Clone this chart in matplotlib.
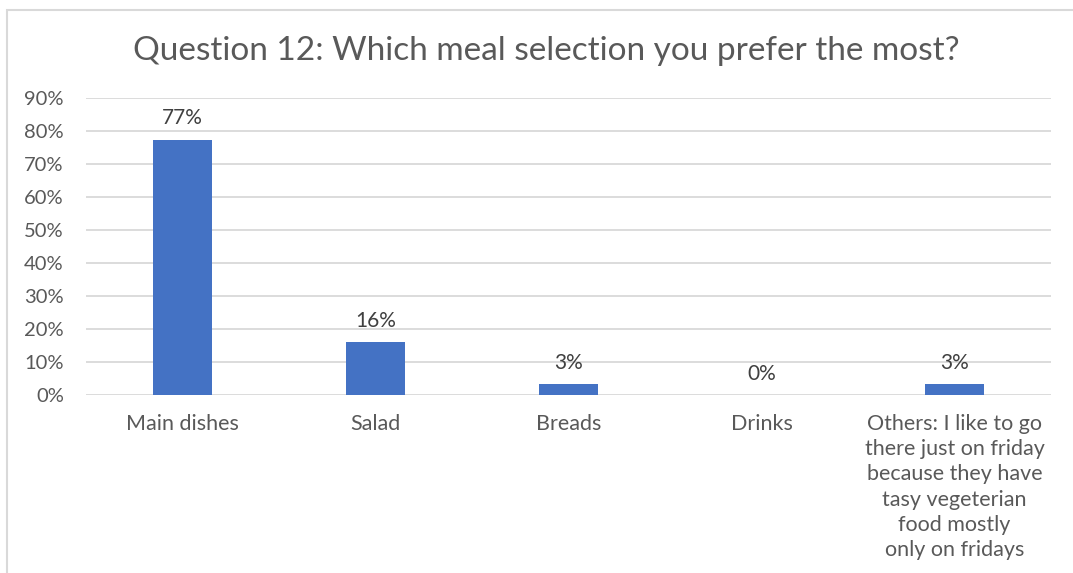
import matplotlib
matplotlib.use("Agg")
import matplotlib.pyplot as plt
from matplotlib.patches import Rectangle
from matplotlib.ticker import FuncFormatter, MultipleLocator

categories = ["Main dishes", "Salad", "Breads", "Drinks",
              "Others: I like to go\nthere just on friday\nbecause they have\ntasy vegeterian\nfood mostly\nonly on fridays"]
values = [77.4, 16.1, 3.2, 0.0, 3.2]
labels = ["77%", "16%", "3%", "0%", "3%"]
title = "Question 12: Which meal selection you prefer the most?"

plt.rcParams['font.family'] = ['Lato', 'DejaVu Sans']
W, H = 1073, 573
fig = plt.figure(figsize=(W/100, H/100), dpi=100)
ax = fig.add_axes([86/W, 1-395/H, (1051-86)/W, (395-98)/H])

x = range(len(categories))
ax.bar(x, values, width=0.31, color="#4472C4", zorder=3)
for xi, v, lab in zip(x, values, labels):
    ax.annotate(lab, (xi, v), xytext=(0, 8), textcoords="offset points",
                ha="center", va="bottom", fontsize=15, color="#404040")

ax.set_xlim(-0.5, len(categories)-0.5)
ax.set_ylim(0, 90)
ax.yaxis.set_major_locator(MultipleLocator(10))
ax.yaxis.set_major_formatter(FuncFormatter(lambda v, p: f"{int(round(v))}%"))
ax.grid(axis="y", color="#d9d9d9", linewidth=1.3, zorder=0)
for s in ax.spines.values():
    s.set_visible(False)
ax.tick_params(axis="y", length=0, pad=16, labelsize=14.5, labelcolor="#595959")
ax.tick_params(axis="x", length=0, pad=13.5, labelsize=15.5, labelcolor="#595959")
ax.set_xticks(list(x))
ax.set_xticklabels(categories, linespacing=1.33)

fig.text(546/W, 1-51/H, title, ha="center", va="center", fontsize=24, color="#595959")
fig.patches.append(Rectangle((7/W, -0.1), 1.2, 1-10/H+0.1, transform=fig.transFigure,
                             fill=False, edgecolor="#d9d9d9", linewidth=1.5))
fig.savefig("out.png", dpi=100)
